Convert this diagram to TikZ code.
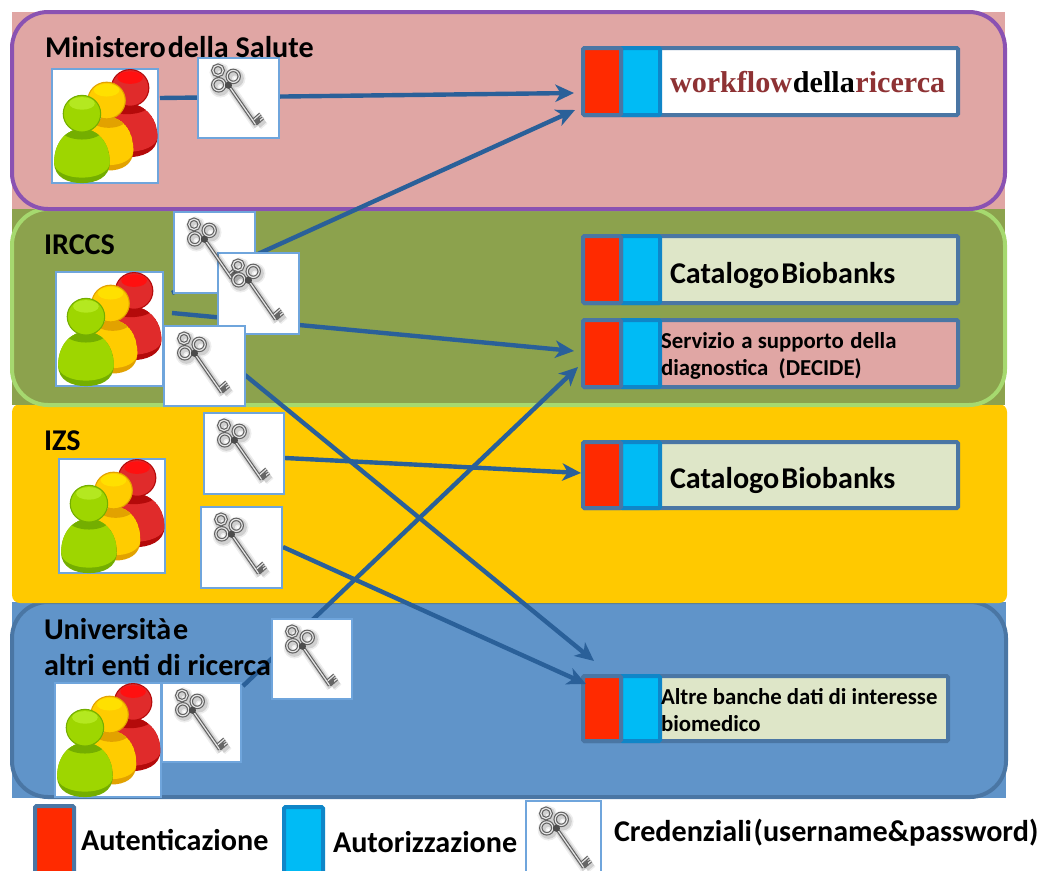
\documentclass[tikz,border=0pt]{standalone}
\usepackage{fontspec}
\setmainfont{Carlito}[BoldFont=Carlito Bold]
\newfontfamily\serifbold{Liberation Serif}[BoldFont=Liberation Serif Bold]
\usetikzlibrary{arrows.meta}
\definecolor{pinkband}{HTML}{E0A6A4}
\definecolor{purpleb}{HTML}{8A52B2}
\definecolor{oliveband}{HTML}{8CA24D}
\definecolor{greenb}{HTML}{A6D96F}
\definecolor{yellowband}{HTML}{FFC900}
\definecolor{blueband}{HTML}{6094C9}
\definecolor{bluebord}{HTML}{4A76A4}
\definecolor{paleg}{HTML}{DEE6C8}
\definecolor{cred}{HTML}{FF2A00}
\definecolor{ccyan}{HTML}{00BBF5}
\definecolor{cyanb}{HTML}{0F86C8}
\definecolor{arrowb}{HTML}{2A6099}
\definecolor{iconb}{HTML}{6FA5DC}
\definecolor{wfred}{HTML}{8E3234}
\definecolor{fr}{HTML}{E02B2B}\definecolor{frd}{HTML}{B40A0A}\definecolor{frl}{HTML}{FF1010}
\definecolor{fy}{HTML}{FFCC00}\definecolor{fyd}{HTML}{E2A200}\definecolor{fyl}{HTML}{FFE000}
\definecolor{fg}{HTML}{9ED600}\definecolor{fgd}{HTML}{74AE00}\definecolor{fgl}{HTML}{B4E820}
\tikzset{
  band/.style={inner sep=0pt,outer sep=0pt,rectangle},
  bandrim/.style={draw=#1,line width=3pt,rounded corners=27pt,fill=none},
  svc/.style={draw=bluebord,line width=3pt,rounded corners=1pt,inner sep=0pt,outer sep=0pt,rectangle},
  iconbox/.style={draw=iconb,line width=1.8pt,fill=white,inner sep=0pt,outer sep=0pt,rectangle},
  conn/.style={draw=arrowb,line width=3.3pt,-{Stealth[length=14pt,width=13pt,inset=4pt]}},
  plainl/.style={font=\bfseries\fontsize{22.6}{27}\selectfont,inner sep=0pt,outer sep=0pt,anchor=base west,align=left},
  smalll/.style={font=\bfseries\fontsize{17.1}{20.4}\selectfont,inner sep=0pt,outer sep=0pt,anchor=north west,align=left},
}
\newcommand\pxnode[6]{\node[#1,minimum width={(#5-#3)*0.75pt},minimum height={(#6-#4)*0.75pt}] (#2) at ({(#3+#5)/2},{(#4+#6)/2}) {};}
\def\bodypath{(-1,.62) .. controls (-1,.22) and (-.5,0) .. (0,0) .. controls (.5,0) and (1,.22) .. (1,.62) .. controls (1,.9) and (.5,1) .. (0,1) .. controls (-.5,1) and (-1,.9) .. (-1,.62) -- cycle}
% cx hw top h hx hy main dark light
\newcommand\onefig[9]{%
 \begin{scope}[shift={(#1,#3)},xscale=#2,yscale=#4]
  \fill[#8] \bodypath;
  \begin{scope}
   \clip \bodypath;
   \fill[#7] (-1,.62) .. controls (-1,.22) and (-.5,0) .. (0,0) .. controls (.5,0) and (1,.22) .. (1,.62) .. controls (1,.8) and (.5,.9) .. (0,.9) .. controls (-.5,.9) and (-1,.8) .. (-1,.62) -- cycle;
   \fill[#8] (0,0) circle [x radius=.78,y radius=.2];
  \end{scope}
 \end{scope}
 \fill[#7,draw=#8,line width=.8pt] (#5,#6) circle [x radius=.175,y radius=.16];
 \fill[#9] (#5,#6-.09) circle [x radius=.12,y radius=.055];
}
\newcommand\peopleglyph{%
 \onefig{.70}{.285}{.30}{.47}{.73}{.165}{fr}{frd}{frl}
 \onefig{.53}{.23}{.42}{.465}{.51}{.275}{fy}{fyd}{fyl}
 \onefig{.28}{.26}{.52}{.475}{.28}{.39}{fg}{fgd}{fgl}
}
\newcommand\keyshape{%
 (.25,.155) circle [radius=.065] (.44,.23) circle [radius=.075] (.26,.335) circle [radius=.075]
 (.38,.34) -- (.72,.83) (.70,.77) -- (.78,.70) (.73,.82) -- (.81,.75)
}
\newcommand\keyglyph{%
 \begin{scope}[shift={(.02,.025)}]
  \draw[black,opacity=.07,line width=7pt] \keyshape;
  \draw[black,opacity=.12,line width=4.5pt] \keyshape;
 \end{scope}
 \draw[black!62,line width=2.6pt] \keyshape;
 \draw[black!10,line width=.9pt] \keyshape;
 \fill[black!70] (.38,.34) circle [radius=.045];
 \fill[black!60] (.71,.78) -- (.77,.74) -- (.78,.80) -- (.73,.84) -- cycle;
}
\begin{document}
\begin{tikzpicture}[x=0.75pt,y=-0.75pt]
\useasboundingbox (0,0) rectangle (1039,871);
\clip (0,0) rectangle (1039,871);
% bands
\pxnode{band,fill=blueband}{bandD}{12}{602}{1006}{798}
\draw[bandrim=bluebord] (bandD.south west) ++(0,-1) rectangle (bandD.north east);
\pxnode{band,fill=yellowband,rounded corners=6pt}{bandC}{12}{404}{1007}{603}
\pxnode{band,fill=oliveband}{bandB}{12}{209}{1005}{405}
\draw[bandrim=greenb] (bandB.south west) rectangle (bandB.north east);
\pxnode{band,fill=pinkband}{bandA}{12}{12}{1005}{209}
\draw[bandrim=purpleb] (bandA.south west) rectangle (bandA.north east);
% services
\foreach \nm/\ya/\yb/\xb/\col in {s1/48/115/958/white,s2/236/303/958/paleg,s3/320/387/958/pinkband,s4/442/508/958/paleg,s5/676/741/948/paleg}{
  \pxnode{svc,fill=\col}{\nm}{583}{\ya}{\xb}{\yb}
  \pxnode{svc,fill=ccyan,draw=cyanb}{\nm b}{621}{\ya}{660}{\yb}
  \pxnode{svc,fill=cred}{\nm a}{583}{\ya}{621}{\yb}
}
% icon nodes
\pxnode{iconbox}{p1}{52}{69}{158}{183}
\pxnode{iconbox}{p2}{56}{272}{163}{386}
\pxnode{iconbox}{p3}{59}{459}{165}{573}
\pxnode{iconbox}{k4a}{162}{683}{241}{762}
\pxnode{iconbox}{p4}{55}{683}{161}{797}
\foreach \nm in {p1,p2,p3,p4}{
 \begin{scope}[shift={(\nm.north west)},x=80.25pt,y=-86pt]\peopleglyph\end{scope}
}
% connector ends
\coordinate (c1) at (160,98);
\coordinate (c2) at (172,293);
\coordinate (c3) at (172,313);
\coordinate (c4) at (245,375);
\coordinate (c5) at (285,458);
\coordinate (c6) at (283,547);
\coordinate (c7) at (243,686);
\coordinate (t1) at (574,93);
\coordinate (t2) at (575,110);
\coordinate (t3) at (574,351);
\coordinate (t4) at (578,367);
\coordinate (t5) at (581,473);
\coordinate (t6) at (586,684);
\coordinate (t7) at (594,661);
\draw[conn] (c1) -- (t1);
\draw[conn] (c2) -- (t2);
\draw[conn] (c3) -- (t3);
\draw[conn] (c4) -- (t7);
\draw[conn] (c5) -- (t5);
\draw[conn] (c6) -- (t6);
\draw[conn] (c7) -- (t4);
% keys
\pxnode{iconbox}{k1}{198}{58}{279}{138}
\pxnode{iconbox}{k2a}{174}{212}{255}{293}
\pxnode{iconbox}{k2b}{218}{253}{299}{334}
\pxnode{iconbox}{k2c}{164}{326}{245}{406}
\pxnode{iconbox}{k3a}{204}{413}{284}{494}
\pxnode{iconbox}{k3b}{201}{507}{282}{588}
\pxnode{iconbox}{k4b}{272}{619}{352}{699}
\pxnode{iconbox}{k5}{526}{801}{601}{880}
\foreach \nm in {k1,k2a,k2b,k2c,k3a,k3b,k4a,k4b,k5}{
 \begin{scope}[shift={(\nm.north west)},x=60pt,y=-60pt]\keyglyph\end{scope}
}
% legend
\pxnode{svc,fill=cred}{la}{35}{806}{74}{875}
\pxnode{svc,fill=ccyan,draw=cyanb}{lb}{284}{807}{323}{875}
% texts
\node[plainl] (tA) at (45,57) {{\spaceskip=1.5pt Ministero della} Salute};
\node[plainl] (tB) at (44,254) {IRCCS};
\node[plainl] (tC) at (44,450) {IZS};
\node[plainl,anchor=north west] (tD) at (44,618) {{\spaceskip=1.5pt Università e}\\altri enti di ricerca};
\node[plainl] (w1) at (670,92) {\serifbold\bfseries\fontsize{22.6}{27}\selectfont\spaceskip=.5pt \textcolor{wfred}{workflow} della \textcolor{wfred}{ricerca}};
\node[plainl] (w2) at (670,283) {{\spaceskip=1.5pt Catalogo Biobanks}};
\node[smalll] (w3) at (661,332) {Servizio\hspace{1pt} a supporto\hspace{1pt} della\\diagnostica\hspace{4pt} (DECIDE)};
\node[plainl] (w4) at (670,488) {{\spaceskip=1.5pt Catalogo Biobanks}};
\node[smalll] (w5) at (661,688) {Altre banche dati di interesse\\biomedico};
\node[plainl] (l1) at (81,850) {Autenticazione};
\node[plainl] (l2) at (333,852) {Autorizzazione};
\node[plainl] (l3) at (614,841) {{\spaceskip=1.2pt Credenziali (username\&password)}};
\end{tikzpicture}
\end{document}
